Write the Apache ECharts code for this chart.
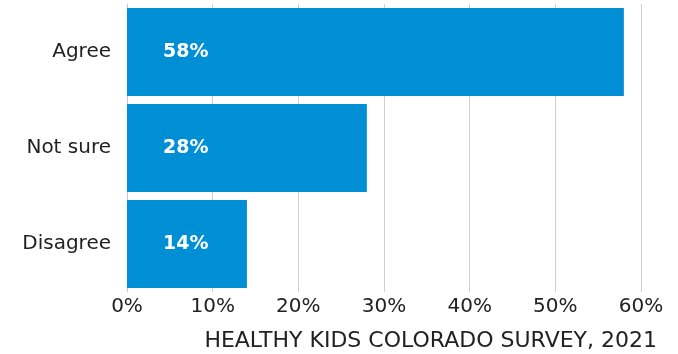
<!DOCTYPE html>
<html><head><meta charset="utf-8">
<script src="https://cdn.jsdelivr.net/npm/echarts@6/dist/echarts.min.js"></script>
<style>html,body{margin:0;padding:0;background:#fff}#c{width:678px;height:354px}</style>
</head><body><div id="c"></div>
<script>
const categories = ["Agree", "Not sure", "Disagree"];
const values = [58, 28, 14];
const xTicks = [0, 10, 20, 30, 40, 50, 60];
const sourceText = "HEALTHY KIDS COLORADO SURVEY, 2021";

const FONT = '"DejaVu Sans", sans-serif';
const chart = echarts.init(document.getElementById('c'));
chart.setOption({
  animation: false,
  textStyle: { fontFamily: FONT },
  grid: { left: 127, right: 37, top: 4, bottom: 62 },
  xAxis: {
    type: 'value', min: xTicks[0], max: xTicks[xTicks.length - 1], interval: 10,
    axisLine: { show: false }, axisTick: { show: false },
    splitLine: { lineStyle: { color: '#d0d0d0', width: 1 } },
    axisLabel: { formatter: '{value}%', color: '#222', fontSize: 20, margin: 5, fontFamily: FONT }
  },
  yAxis: {
    type: 'category', data: categories, inverse: true,
    axisLine: { show: true, lineStyle: { color: '#c8c8c8' } },
    axisTick: { show: false },
    axisLabel: { color: '#222', fontSize: 20, margin: 16, fontFamily: FONT }
  },
  series: [{
    type: 'bar', data: values, barCategoryGap: '8.5%',
    itemStyle: { color: '#008fd5' },
    label: { show: true, position: 'insideLeft', distance: 36, formatter: '{c}%',
      color: '#fff', fontWeight: 'bold', fontSize: 19, fontFamily: FONT }
  }],
  graphic: [{
    type: 'text', right: 21, top: 330,
    style: { text: sourceText, fill: '#222', fontSize: 22, fontFamily: FONT }
  }]
});
</script></body></html>
